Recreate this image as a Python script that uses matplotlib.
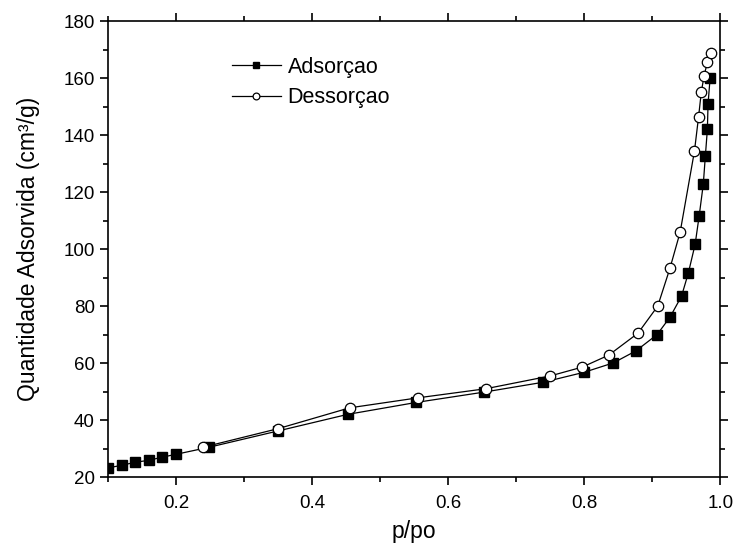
import matplotlib.pyplot as plt
from matplotlib.ticker import MultipleLocator

plt.rcParams['font.family'] = ['Liberation Sans', 'DejaVu Sans']

# adsorption branch
p_ads = [0.1, 0.121, 0.14, 0.16, 0.18, 0.2, 0.249, 0.35, 0.452, 0.553, 0.652, 0.74,
         0.8, 0.843, 0.876, 0.907, 0.926, 0.943, 0.953, 0.963, 0.969, 0.975, 0.978,
         0.981, 0.982, 0.985]
q_ads = [23.2, 24.2, 25.2, 25.9, 27.0, 28.0, 30.5, 36.2, 42.0, 46.2, 49.8, 53.3,
         56.8, 60.1, 64.3, 70.0, 76.1, 83.5, 91.6, 101.7, 111.8, 122.8, 132.6,
         142.0, 151.0, 160.0]

# desorption branch
p_des = [0.24, 0.35, 0.455, 0.555, 0.655, 0.75, 0.797, 0.836, 0.879, 0.908, 0.926,
         0.941, 0.962, 0.968, 0.972, 0.976, 0.981, 0.987]
q_des = [30.5, 37.0, 44.3, 47.8, 51.0, 55.5, 58.6, 62.8, 70.5, 80.0, 93.3,
         106.0, 134.4, 146.3, 155.0, 160.7, 165.6, 168.8]

fig = plt.figure(figsize=(7.35, 5.44), dpi=100)
ax = fig.add_axes([0.147, 0.123, 0.833, 0.838])

ax.plot(p_ads, q_ads, color='black', lw=0.9, marker='s', ms=7,
        mfc='black', mec='black', label='Adsorçao')
ax.plot(p_des, q_des, color='black', lw=0.9, marker='o', ms=7.5,
        mfc='white', mec='black', mew=0.9, label='Dessorçao')

ax.set_xlim(0.1, 1.0)
ax.set_ylim(20, 180)
ax.xaxis.set_major_locator(MultipleLocator(0.2))
ax.xaxis.set_minor_locator(MultipleLocator(0.1))
ax.yaxis.set_major_locator(MultipleLocator(20))
ax.yaxis.set_minor_locator(MultipleLocator(10))
ax.tick_params(which='both', direction='out', top=True, right=True,
               labeltop=False, labelright=False, width=1.2)
ax.tick_params(which='major', length=6, labelsize=13.5)
ax.tick_params(axis='x', which='major', pad=7)
ax.tick_params(which='minor', length=3.5)
for s in ax.spines.values():
    s.set_linewidth(1.2)

ax.set_xlabel('p/po', fontsize=16.5, labelpad=6)
ax.set_ylabel('Quantidade Adsorvida (cm³/g)', fontsize=16.5, labelpad=17)

ax.legend(loc='upper left', bbox_to_anchor=(0.17, 0.965), frameon=False,
          fontsize=15.5, handlelength=2.3, handletextpad=0.3, labelspacing=0.45,
          markerscale=0.65)

fig.savefig('out.png', dpi=100)
